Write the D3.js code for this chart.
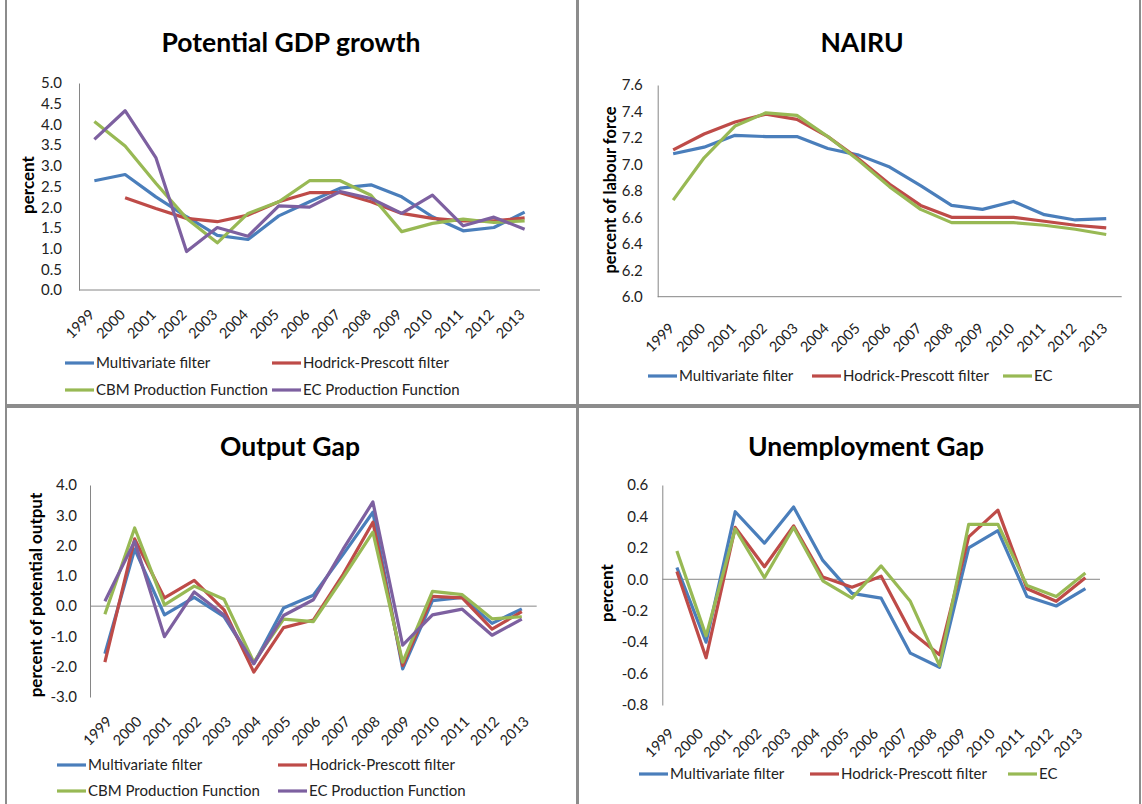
<!DOCTYPE html>
<html>
<head>
<meta charset="utf-8">
<script src="https://cdn.jsdelivr.net/npm/d3@7"></script>
<style>
  html, body { margin: 0; padding: 0; background: #fff; }
  svg { display: block; font-family: Lato, "Open Sans", sans-serif; }
</style>
</head>
<body>
<svg id="chart" width="1142" height="804"></svg>
<script>
// ---------- DATA ----------
const years = ["1999","2000","2001","2002","2003","2004","2005","2006","2007","2008","2009","2010","2011","2012","2013"];

// Potential GDP growth (percent)
const gdpMultivariate = [2.64, 2.79, 2.25, 1.77, 1.32, 1.22, 1.79, 2.13, 2.46, 2.54, 2.25, 1.77, 1.43, 1.51, 1.88];
const gdpHodrickPrescott = [null, 2.23, 1.97, 1.73, 1.65, 1.81, 2.13, 2.35, 2.35, 2.13, 1.85, 1.73, 1.67, 1.67, 1.74];
const gdpCBM = [4.07, 3.48, 2.58, 1.73, 1.14, 1.85, 2.13, 2.64, 2.64, 2.29, 1.41, 1.61, 1.71, 1.63, 1.67];
const gdpEC = [3.64, 4.33, 3.20, 0.93, 1.51, 1.30, 2.03, 2.00, 2.38, 2.21, 1.85, 2.29, 1.55, 1.76, 1.47];
const gdpTicks = [0.0, 0.5, 1.0, 1.5, 2.0, 2.5, 3.0, 3.5, 4.0, 4.5, 5.0];

// NAIRU (percent of labour force)
const nairuMultivariate = [7.08, 7.13, 7.22, 7.21, 7.21, 7.12, 7.07, 6.98, 6.84, 6.69, 6.66, 6.72, 6.62, 6.58, 6.59];
const nairuHodrickPrescott = [7.11, 7.23, 7.32, 7.38, 7.34, 7.21, 7.04, 6.85, 6.69, 6.60, 6.60, 6.60, 6.57, 6.54, 6.52];
const nairuEC = [6.73, 7.05, 7.29, 7.39, 7.37, 7.21, 7.03, 6.83, 6.66, 6.56, 6.56, 6.56, 6.54, 6.51, 6.47];
const nairuTicks = [6.0, 6.2, 6.4, 6.6, 6.8, 7.0, 7.2, 7.4, 7.6];

// Output gap (percent of potential output)
const gapMultivariate = [-1.57, 1.88, -0.29, 0.29, -0.35, -1.90, -0.06, 0.36, 1.71, 3.10, -2.07, 0.18, 0.29, -0.57, -0.09];
const gapHodrickPrescott = [-1.85, 2.22, 0.27, 0.85, -0.12, -2.18, -0.71, -0.46, 1.05, 2.77, -1.96, 0.32, 0.27, -0.76, -0.18];
const gapCBM = [-0.27, 2.58, 0.04, 0.66, 0.23, -1.85, -0.43, -0.51, 0.94, 2.44, -1.85, 0.49, 0.38, -0.42, -0.35];
const gapEC = [0.16, 2.14, -1.01, 0.47, -0.29, -1.90, -0.31, 0.21, 1.88, 3.44, -1.29, -0.29, -0.10, -0.96, -0.43];
const gapTicks = [-3, -2, -1, 0, 1, 2, 3, 4];

// Unemployment gap (percent)
const ugapMultivariate = [0.075, -0.40, 0.43, 0.23, 0.46, 0.12, -0.09, -0.12, -0.47, -0.56, 0.20, 0.31, -0.11, -0.17, -0.06];
const ugapHodrickPrescott = [0.05, -0.50, 0.33, 0.08, 0.34, 0.015, -0.05, 0.02, -0.33, -0.48, 0.27, 0.44, -0.06, -0.14, 0.01];
const ugapEC = [0.18, -0.36, 0.32, 0.01, 0.33, -0.01, -0.12, 0.085, -0.14, -0.55, 0.35, 0.35, -0.04, -0.11, 0.04];
const ugapTicks = [-0.8, -0.6, -0.4, -0.2, 0.0, 0.2, 0.4, 0.6];

const seriesNames4 = ["Multivariate filter", "Hodrick-Prescott filter", "CBM Production Function", "EC Production Function"];
const seriesNames3 = ["Multivariate filter", "Hodrick-Prescott filter", "EC"];
const colors4 = ["#4A7EBB", "#BE4B48", "#98B954", "#7D60A0"];
const colors3 = ["#4A7EBB", "#BE4B48", "#98B954"];

// ---------- DRAW ----------
const svg = d3.select("#chart");
const fmt = d => d3.format(".1f")(d).replace("\u2212", "-");

// panel frames
const frame = svg.append("g").attr("stroke", "#8c8c8c").attr("stroke-width", 2).attr("fill", "none");
frame.append("rect").attr("x", 6).attr("y", -2).attr("width", 571).attr("height", 407);
frame.append("rect").attr("x", 578).attr("y", -2).attr("width", 562).attr("height", 407);
frame.append("rect").attr("x", 6).attr("y", 407).attr("width", 571).attr("height", 400);
frame.append("rect").attr("x", 578).attr("y", 407).attr("width", 562).attr("height", 400);

function drawPanel(cfg) {
  const g = svg.append("g");
  const x = d3.scalePoint().domain(years).range(cfg.xRange).padding(0.5);
  const y = d3.scaleLinear().domain(cfg.yDomain).range(cfg.yRange);

  // title
  g.append("text").attr("x", cfg.titleX).attr("y", cfg.titleY)
    .attr("text-anchor", "middle").attr("font-size", 26.5).attr("font-weight", "bold")
    .attr("fill", "#000").text(cfg.title);

  // y axis
  const yAxis = d3.axisLeft(y).tickValues(cfg.ticks).tickSize(0).tickPadding(cfg.yPad)
    .tickFormat(fmt);
  const ya = g.append("g").attr("transform", `translate(${cfg.xRange[0]},0)`).call(yAxis);
  ya.select(".domain").attr("stroke", "#868686");
  ya.selectAll("text").attr("font-size", 15).attr("fill", "#222").attr("font-family", "Lato, sans-serif");

  // horizontal axis line (at zero or at bottom)
  const baseVal = cfg.yDomain[0] < 0 ? 0 : cfg.yDomain[0];
  g.append("line").attr("x1", cfg.xRange[0]).attr("x2", cfg.xRange[1])
    .attr("y1", y(baseVal)).attr("y2", y(baseVal)).attr("stroke", "#868686").attr("stroke-width", 1);

  // x tick labels (rotated), at bottom of plot
  const xAxis = d3.axisBottom(x).tickSize(0).tickPadding(0);
  const xa = g.append("g").attr("transform", `translate(0,${cfg.yRange[0]})`).call(xAxis);
  xa.select(".domain").remove();
  xa.selectAll("text")
    .attr("font-size", 14.5).attr("fill", "#222").attr("font-family", "Lato, sans-serif")
    .attr("text-anchor", "end").attr("y", 0).attr("dy", "0.35em")
    .attr("transform", `translate(${cfg.xLabDx},${cfg.xLabDy}) rotate(-45)`);

  // y axis title
  g.append("text").attr("transform", `translate(${cfg.yTitleX},${cfg.yTitleY}) rotate(-90)`)
    .attr("text-anchor", "middle").attr("font-size", cfg.yTitleSize).attr("font-weight", "bold")
    .attr("fill", "#000").text(cfg.yTitle);

  // lines
  const line = d3.line().defined(d => d.v != null).x(d => x(d.year)).y(d => y(d.v));
  cfg.series.forEach((s, i) => {
    const pts = years.map((yr, j) => ({ year: yr, v: s[j] }));
    g.append("path").datum(pts).attr("d", line).attr("fill", "none")
      .attr("stroke", cfg.colors[i]).attr("stroke-width", 3.2)
      .attr("stroke-linejoin", "round");
  });

  // legend
  cfg.legend.forEach((it, i) => {
    g.append("line").attr("x1", it.x).attr("x2", it.x + 29).attr("y1", it.y).attr("y2", it.y)
      .attr("stroke", cfg.colors[i]).attr("stroke-width", 3.2);
    g.append("text").attr("x", it.x + 31).attr("y", it.y).attr("dy", "0.35em")
      .attr("font-size", 15).attr("fill", "#222").text(cfg.names[i]);
  });
}

drawPanel({
  title: "Potential GDP growth", titleX: 291, titleY: 52,
  xRange: [79, 540], yDomain: [0, 5], yRange: [290, 83], ticks: gdpTicks, yPad: 17,
  xLabDx: -3, xLabDy: 22,
  yTitle: "percent", yTitleSize: 17, yTitleX: 34, yTitleY: 185,
  series: [gdpMultivariate, gdpHodrickPrescott, gdpCBM, gdpEC], colors: colors4, names: seriesNames4,
  legend: [{x: 65, y: 363}, {x: 272, y: 363}, {x: 65, y: 390}, {x: 272, y: 390}]
});

drawPanel({
  title: "NAIRU", titleX: 862, titleY: 52,
  xRange: [657.7, 1121.7], yDomain: [6.0, 7.6], yRange: [296.7, 85], ticks: nairuTicks, yPad: 15,
  xLabDx: -2, xLabDy: 29,
  yTitle: "percent of labour force", yTitleSize: 16.5, yTitleX: 616, yTitleY: 190,
  series: [nairuMultivariate, nairuHodrickPrescott, nairuEC], colors: colors3, names: seriesNames3,
  legend: [{x: 648, y: 376}, {x: 812, y: 376}, {x: 1003, y: 376}]
});

drawPanel({
  title: "Output Gap", titleX: 290, titleY: 456,
  xRange: [90, 536.7], yDomain: [-3, 4], yRange: [697, 485], ticks: gapTicks, yPad: 13,
  xLabDx: 4, xLabDy: 22,
  yTitle: "percent of potential output", yTitleSize: 17, yTitleX: 42, yTitleY: 595,
  series: [gapMultivariate, gapHodrickPrescott, gapCBM, gapEC], colors: colors4, names: seriesNames4,
  legend: [{x: 57, y: 765}, {x: 278, y: 765}, {x: 57, y: 791}, {x: 278, y: 791}]
});

drawPanel({
  title: "Unemployment Gap", titleX: 866, titleY: 456,
  xRange: [662.3, 1100], yDomain: [-0.8, 0.6], yRange: [705, 485], ticks: ugapTicks, yPad: 14,
  xLabDx: -6, xLabDy: 26,
  yTitle: "percent", yTitleSize: 17, yTitleX: 613, yTitleY: 593,
  series: [ugapMultivariate, ugapHodrickPrescott, ugapEC], colors: colors3, names: seriesNames3,
  legend: [{x: 639, y: 774}, {x: 810, y: 774}, {x: 1008, y: 774}]
});
</script>
</body>
</html>
